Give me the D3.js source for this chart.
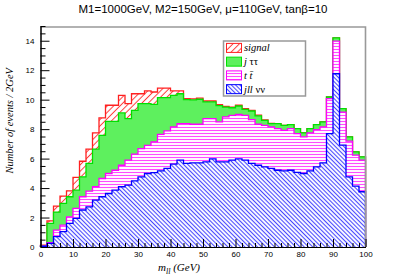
<!DOCTYPE html>
<html><head><meta charset="utf-8">
<script src="https://cdn.jsdelivr.net/npm/d3@7"></script>
<style>
html,body{margin:0;padding:0;background:#fff;}
svg{display:block;}
</style></head><body>
<svg id="chart" width="407" height="276"></svg>
<script>
// ---- data (bin lower edges in GeV, events / 2 GeV per component) ----
const binLow = [0,2,4,6,8,10,12,14,16,18,20,22,24,26,28,30,32,34,36,38,40,42,44,46,48,
                50,52,54,56,58,60,62,64,66,68,70,72,74,76,78,80,82,84,86,88,90,92,94,96,98];
const jllvv = [0.05,0.25,0.70,1.04,1.60,1.94,2.51,2.73,3.18,3.41,3.63,3.86,4.09,4.20,4.49,4.76,4.99,5.05,5.17,5.33,
               5.62,5.89,5.67,5.71,5.71,5.78,5.98,5.78,5.78,5.89,5.98,5.89,5.67,5.55,5.44,5.33,5.21,5.17,5.21,5.06,
               4.99,5.17,5.44,5.71,7.70,11.76,6.91,4.76,4.13,3.75];
const ttbar = [0.02,0.05,0.45,0.45,0.45,0.68,0.90,1.06,0.91,1.24,1.36,1.35,1.46,1.69,1.81,1.92,1.91,2.08,2.48,2.55,
               2.53,2.48,2.70,2.62,2.62,2.93,2.73,2.71,3.05,3.05,3.02,3.05,2.98,2.78,2.82,2.82,2.83,2.75,2.83,2.64,
               2.48,2.57,2.53,2.44,2.37,2.21,2.25,2.42,2.10,2.14];
const jtautau = [0.03,1.30,1.22,1.47,1.36,1.24,1.35,1.88,2.55,2.93,3.54,3.32,3.55,2.82,2.98,3.05,2.83,2.55,2.49,2.26,
                 2.14,2.03,1.63,1.65,1.70,1.14,1.14,1.11,0.67,0.51,0.57,0.40,0.58,0.57,0.34,0.22,0.33,0.34,0.27,0.34,
                 0.27,0.30,0.34,0.34,0.11,0.23,0.23,0.29,0.23,0.23];
const signal = [0.02,0.18,0.41,0.49,0.40,0.86,1.06,0.97,1.10,1.18,1.09,1.09,1.19,1.02,1.12,0.67,0.86,0.84,0.65,0.65,
                0.30,0.19,0.07,0.07,0.07,0.06,0.06,0.06,0.05,0.05,0.05,0.05,0.05,0.05,0.02,0.02,0,0,0,0,
                0,0,0,0,0,0,0,0,0,0];
const xTicks = [0,10,20,30,40,50,60,70,80,90,100];
const yTicks = [0,2,4,6,8,10,12,14];
const titleText = "M1=1000GeV, M2=150GeV, \u03bc=110GeV, tan\u03b2=10";
const seriesKeys = ["jllvv","ttbar","jtautau","signal"];

// ---- drawing ----
const svg = d3.select("#chart");
const x = d3.scaleLinear().domain([0,100]).range([40.5,365.5]);
const y = d3.scaleLinear().domain([0,15]).range([247,26]);

const defs = svg.append("defs");
function hatch(id, color, spacing, angle, width){
  const p = defs.append("pattern").attr("id",id).attr("patternUnits","userSpaceOnUse")
    .attr("width",spacing).attr("height",spacing).attr("patternTransform",`rotate(${angle})`);
  p.append("rect").attr("width",spacing).attr("height",spacing).attr("fill","#fff");
  p.append("line").attr("x1",spacing/2).attr("y1",-1).attr("x2",spacing/2).attr("y2",spacing+1)
    .attr("stroke",color).attr("stroke-width",width);
}
hatch("hSig","#ff3a3a",4.5,45,1);
hatch("hTt","#ff4cff",3,90,1.1);
hatch("hJll","#4848ff",3,-45,1.1);

const style = {
  signal:{fill:"url(#hSig)",stroke:"#ff2020"},
  jtautau:{fill:"#5ef05e",stroke:"#00e000"},
  ttbar:{fill:"url(#hTt)",stroke:"#ff00ff"},
  jllvv:{fill:"url(#hJll)",stroke:"#0000ff"}
};

svg.append("rect").attr("width",407).attr("height",276).attr("fill","#fff");
svg.append("rect").attr("x",40.5).attr("y",27).attr("width",325).attr("height",220).attr("fill","#fff");

const data = binLow.map((b,i)=>({b, jllvv:jllvv[i], ttbar:ttbar[i], jtautau:jtautau[i], signal:signal[i]}));
const stacked = d3.stack().keys(seriesKeys)(data);
const line = d3.line().x(d=>x(d[0])).y(d=>y(d[1])).curve(d3.curveStepAfter);

stacked.slice().reverse().forEach(layer=>{
  const pts = [[0,0]].concat(layer.map((d,i)=>[binLow[i], d[1]]));
  pts.push([100, layer[layer.length-1][1]]);
  pts.push([100,0]);
  const st = style[layer.key];
  svg.append("path").attr("d", line(pts)+"Z").attr("fill",st.fill).attr("stroke","none");
  svg.append("path").attr("d", line(pts)).attr("fill","none").attr("stroke",st.stroke).attr("stroke-width",1.3);
});

// frame (top/right)
svg.append("path").attr("d",`M${x(0)},${y(15)+1}H${x(100)}V${y(0)}`).attr("fill","none").attr("stroke","#999").attr("stroke-width",1.6);

// axes
const axFont = "'Liberation Sans', Arial, sans-serif";
const yMinor = d3.range(0,15.01,0.5).filter(v=>v%2!==0);
const xMinor = d3.range(0,100.01,2).filter(v=>v%10!==0);

const gy = svg.append("g").attr("transform",`translate(${x(0)},0)`)
  .call(d3.axisLeft(y).tickValues(yTicks).tickSize(-9).tickSizeOuter(0).tickPadding(6).tickFormat(d3.format("d")));
svg.append("g").attr("transform",`translate(${x(0)},0)`)
  .call(d3.axisLeft(y).tickValues(yMinor).tickSize(-5).tickSizeOuter(0).tickFormat(""));
const gx = svg.append("g").attr("transform",`translate(0,${y(0)})`)
  .call(d3.axisBottom(x).tickValues(xTicks).tickSize(-8).tickSizeOuter(0).tickPadding(4).tickFormat(d3.format("d")));
svg.append("g").attr("transform",`translate(0,${y(0)})`)
  .call(d3.axisBottom(x).tickValues(xMinor).tickSize(-4).tickSizeOuter(0).tickFormat(""));
svg.selectAll(".tick text").attr("font-family",axFont).attr("font-size",8).attr("fill","#000");
svg.selectAll(".domain, .tick line").attr("stroke","#000").attr("stroke-width",1);

// title
svg.append("text").attr("x",203).attr("y",13).attr("text-anchor","middle")
  .attr("font-family",axFont).attr("font-size",11.5).text(titleText);

// axis titles
const serif = "'Liberation Serif', 'Times New Roman', serif";
svg.append("text").attr("transform","translate(13,68) rotate(-90)").attr("text-anchor","end")
  .attr("font-family",serif).attr("font-style","italic").attr("font-size",10.5)
  .text("Number of events / 2GeV");
const xt = svg.append("text").attr("x",158).attr("y",271).attr("font-family",serif).attr("font-style","italic").attr("font-size",11);
xt.append("tspan").text("m");
xt.append("tspan").attr("font-size",8).attr("dy",3).text("ll");
xt.append("tspan").attr("dy",-3).text(" (GeV)");

// legend
const lg = svg.append("g");
lg.append("rect").attr("x",223.5).attr("y",41).attr("width",82).attr("height",55)
  .attr("fill","#fff").attr("stroke","#999").attr("stroke-width",1.5);
const legendRows = [
  {key:"signal", parts:[["signal",true]]},
  {key:"jtautau", parts:[["j",true],[" \u03c4\u03c4",false]]},
  {key:"ttbar", parts:[["t t\u0304",true]]},
  {key:"jllvv", parts:[["jll",true],[" \u03bd\u03bd",false]]}
];
legendRows.forEach((r,i)=>{
  const cy = 47.9 + i*13.75;
  const st = style[r.key];
  lg.append("rect").attr("x",226.5).attr("y",cy-4.5).attr("width",15).attr("height",9)
    .attr("fill",st.fill).attr("stroke",st.stroke).attr("stroke-width",1);
  const t = lg.append("text").attr("x",244).attr("y",cy+3.5).attr("font-family",serif).attr("font-size",10.5);
  r.parts.forEach(p=>t.append("tspan").attr("font-style",p[1]?"italic":"normal").text(p[0]));
});
</script>
</body></html>
